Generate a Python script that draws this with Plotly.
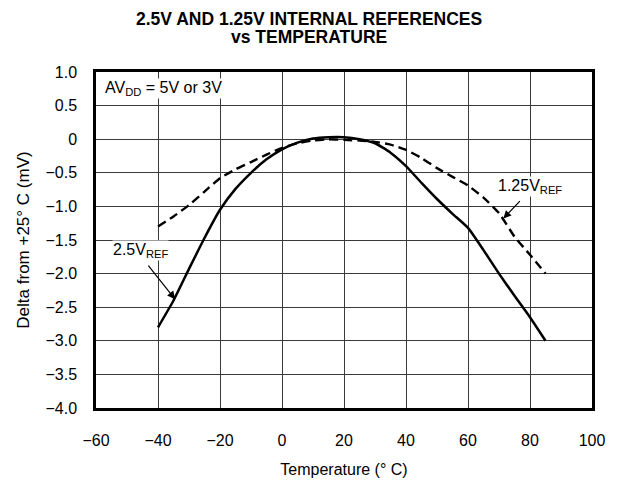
import plotly.graph_objects as go

temp = [-40, -35, -30, -25, -20, -15, -10, -5, 0, 5, 10, 15, 20, 25, 30, 35, 40, 45, 50, 55, 60, 65, 70, 75, 80, 85]
ref_2v5 = [-2.8, -2.4, -1.93, -1.47, -1.05, -0.74, -0.5, -0.3, -0.15, -0.05, 0.01, 0.03, 0.03, 0.0, -0.06, -0.2, -0.4, -0.65, -0.89, -1.11, -1.32, -1.65, -2.0, -2.33, -2.65, -3.0]
ref_1v25 = [-1.3, -1.15, -0.98, -0.78, -0.58, -0.45, -0.34, -0.23, -0.13, -0.06, -0.02, 0.0, -0.01, -0.02, -0.04, -0.08, -0.16, -0.28, -0.43, -0.56, -0.69, -0.87, -1.1, -1.45, -1.72, -2.0]

x_ticks = [-60, -40, -20, 0, 20, 40, 60, 80, 100]
y_ticks = [1.0, 0.5, 0, -0.5, -1.0, -1.5, -2.0, -2.5, -3.0, -3.5, -4.0]
y_ticklabels = ["1.0", "0.5", "0", "\u22120.5", "\u22121.0", "\u22121.5", "\u22122.0", "\u22122.5", "\u22123.0", "\u22123.5", "\u22124.0"]

FONT = "Liberation Sans, Arial, sans-serif"
PLOT_TOP, PLOT_H = 72, 336


def paper_y(px):
    return 1 + (PLOT_TOP - px) / PLOT_H


fig = go.Figure()
fig.add_trace(go.Scatter(x=temp, y=ref_1v25, mode="lines",
                         line=dict(color="black", width=2.4, dash="9px,5px",
                                   shape="spline", smoothing=0.5),
                         name="1.25V REF", showlegend=False))
fig.add_trace(go.Scatter(x=temp, y=ref_2v5, mode="lines",
                         line=dict(color="black", width=2.5, shape="spline", smoothing=0.5),
                         name="2.5V REF", showlegend=False))

fig.update_layout(
    width=618, height=483,
    margin=dict(l=96, r=26, t=72, b=75),
    paper_bgcolor="white", plot_bgcolor="white",
    font=dict(family=FONT, size=16, color="black"),
    xaxis=dict(range=[-60, 100], tickvals=x_ticks, showgrid=True,
               gridcolor="#3a3a3a", gridwidth=1, automargin=False,
               showline=True, linecolor="black", linewidth=2.5, mirror=True,
               ticks="", ticklabelstandoff=16, zeroline=False,
               tickfont=dict(size=16),
               title=dict(text="Temperature (\u00b0 C)", font=dict(size=16), standoff=16)),
    yaxis=dict(range=[-4.0, 1.0], tickvals=y_ticks, ticktext=y_ticklabels, showgrid=True,
               gridcolor="#3a3a3a", gridwidth=1, automargin=False,
               showline=True, linecolor="black", linewidth=2.5, mirror=True,
               ticks="", ticklabelstandoff=13, zeroline=False,
               tickfont=dict(size=16),
               title=dict(text="Delta from +25\u00b0 C (mV)", font=dict(size=17), standoff=12)),
)

# Title (two lines)
fig.add_annotation(x=(309 - 96) / 496, y=paper_y(18.5), xref="paper", yref="paper",
                   xanchor="center", yanchor="middle", showarrow=False,
                   text="<b>2.5V AND 1.25V INTERNAL REFERENCES</b>",
                   font=dict(size=17.5))
fig.add_annotation(x=(309 - 96) / 496, y=paper_y(36.5), xref="paper", yref="paper",
                   xanchor="center", yanchor="middle", showarrow=False,
                   text="<b>vs TEMPERATURE</b>",
                   font=dict(size=17.5))

fig.add_annotation(x=-57.3, y=0.76, xref="x", yref="y", xanchor="left", yanchor="middle",
                   text="AV<sub>DD</sub> = 5V or 3V", showarrow=False,
                   font=dict(size=16), bgcolor="white", borderpad=0)
fig.add_annotation(x=-34.5, y=-2.38, xref="x", yref="y", axref="x", ayref="y",
                   ax=-43.5, ay=-1.86, text="", showarrow=True,
                   arrowhead=2, arrowsize=1.3, arrowwidth=1.2, arrowcolor="black")
fig.add_annotation(x=-54.8, y=-1.66, xref="x", yref="y", xanchor="left", yanchor="middle",
                   text="2.5V<sub>REF</sub>", showarrow=False, font=dict(size=16),
                   bgcolor="white", borderpad=0)
fig.add_annotation(x=71.4, y=-1.18, xref="x", yref="y", axref="x", ayref="y",
                   ax=77.2, ay=-0.9, text="", showarrow=True,
                   arrowhead=2, arrowsize=1.3, arrowwidth=1.2, arrowcolor="black")
fig.add_annotation(x=69.3, y=-0.71, xref="x", yref="y", xanchor="left", yanchor="middle",
                   text="1.25V<sub>REF</sub>", showarrow=False, font=dict(size=16),
                   bgcolor="white", borderpad=0)

fig.write_html("out.html", config={"displayModeBar": False},
               post_script="document.body.style.margin='0';")
